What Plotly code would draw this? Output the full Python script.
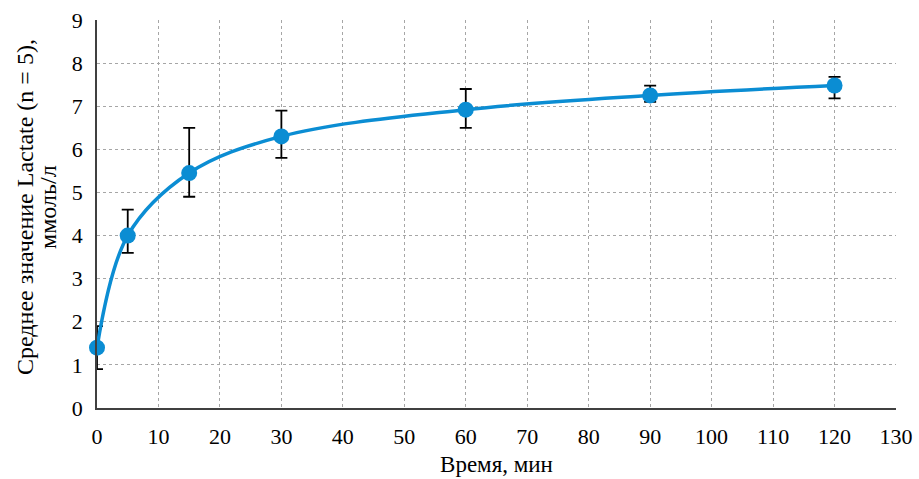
import plotly.graph_objects as go

time_min = [0, 5, 15, 30, 60, 90, 120]
lactate_mean = [1.4, 4.0, 5.45, 6.3, 6.92, 7.25, 7.48]
err_plus = [0.5, 0.6, 1.05, 0.6, 0.48, 0.23, 0.2]
err_minus = [0.5, 0.4, 0.55, 0.5, 0.42, 0.15, 0.3]

x_ticks = list(range(0, 131, 10))
y_ticks = list(range(0, 10))

y_title_line1 = "Среднее значение Lactate (n = 5),"
y_title_line2 = "ммоль/л"
x_title = "Время, мин"

blue = "#0B8DD3"
serif = "Liberation Serif"

fig = go.Figure()
fig.add_trace(go.Scatter(
    x=time_min, y=lactate_mean,
    mode="lines+markers",
    line=dict(color=blue, width=3.5, shape="spline", smoothing=1.0),
    marker=dict(color=blue, size=16),
    error_y=dict(type="data", symmetric=False, array=err_plus, arrayminus=err_minus,
                 color="black", thickness=1.8, width=6),
    showlegend=False,
    cliponaxis=False,
))

grid = dict(showgrid=True, gridcolor="#A6A6A6", griddash="dot", gridwidth=1)
fig.update_layout(
    width=919, height=479,
    margin=dict(l=97, r=23, t=20, b=71),
    paper_bgcolor="white", plot_bgcolor="white",
    font=dict(family=serif, size=22, color="black"),
    xaxis=dict(range=[0, 130], tickmode="array", tickvals=x_ticks,
               showline=True, linecolor="#404040", linewidth=1.5,
               ticks="", zeroline=False, automargin=False,
               tickfont=dict(family=serif, size=22, color="black"),
               ticklabelstandoff=8,
               title=dict(text=x_title, font=dict(family=serif, size=23), standoff=8),
               **grid),
    yaxis=dict(range=[0, 9], tickmode="array", tickvals=y_ticks,
               showline=True, linecolor="#404040", linewidth=1.5,
               ticks="", zeroline=False, automargin=False,
               tickfont=dict(family=serif, size=22, color="black"),
               ticklabelstandoff=8,
               **grid),
)
fig.add_annotation(text=y_title_line1, xref="paper", yref="paper", x=0, y=0.518,
                   xanchor="center", yanchor="middle", xshift=-72, textangle=-90,
                   showarrow=False, font=dict(family=serif, size=24, color="black"))
fig.add_annotation(text=y_title_line2, xref="paper", yref="paper", x=0, y=0.518,
                   xanchor="center", yanchor="middle", xshift=-49, textangle=-90,
                   showarrow=False, font=dict(family=serif, size=24, color="black"))

fig.write_html("out.html")
